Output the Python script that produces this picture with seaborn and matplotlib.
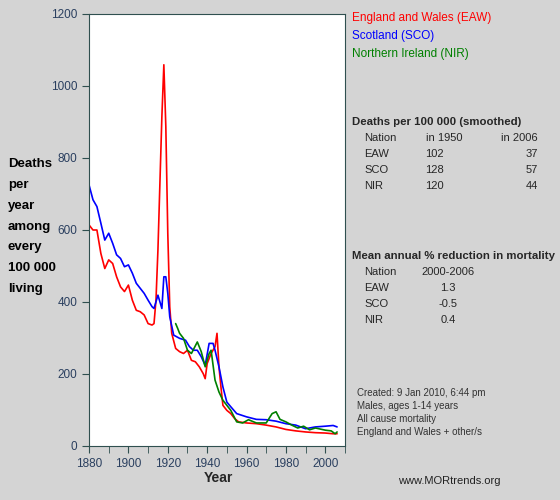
import numpy as np
import pandas as pd
import seaborn as sns
import matplotlib.pyplot as plt

eaw_years = [1880, 1882, 1884, 1886, 1888, 1890, 1892, 1894, 1896, 1898, 1900, 1902, 1904, 1906, 1908, 1910,
             1912, 1913, 1914, 1915, 1916, 1917, 1918, 1919, 1920, 1921, 1922, 1924, 1926, 1928, 1930, 1932,
             1934, 1936, 1938, 1939, 1940, 1942, 1944, 1945, 1946, 1947, 1948, 1950, 1952, 1954, 1956, 1960,
             1965, 1970, 1975, 1980, 1985, 1990, 1995, 2000, 2004, 2006]
eaw_vals = [614, 600, 600, 535, 493, 517, 507, 470, 442, 429, 447, 405, 377, 373, 364, 340,
            336, 340, 405, 545, 730, 915, 1059, 888, 591, 387, 313, 271, 262, 257, 266, 238,
            234, 220, 201, 187, 229, 257, 276, 313, 220, 164, 113, 99, 90, 76, 67, 64,
            62, 58, 53, 46, 42, 39, 37, 36, 34, 34]

sco_years = [1880, 1882, 1884, 1886, 1888, 1890, 1892, 1894, 1896, 1898, 1900, 1902, 1904, 1906, 1908, 1910,
             1912, 1913, 1915, 1917, 1918, 1919, 1920, 1921, 1923, 1926, 1929, 1931, 1933, 1935, 1937, 1939,
             1941, 1943, 1944, 1946, 1948, 1950, 1952, 1955, 1960, 1965, 1970, 1975, 1980, 1985, 1990, 1995,
             2000, 2004, 2006]
sco_vals = [725, 684, 665, 619, 572, 591, 563, 531, 521, 498, 503, 480, 452, 438, 424, 405,
            387, 382, 419, 382, 470, 470, 424, 359, 308, 299, 294, 276, 266, 266, 248, 224,
            285, 285, 266, 220, 164, 122, 109, 90, 81, 74, 73, 69, 62, 58, 48, 53,
            55, 57, 53]

nir_years = [1924, 1925, 1926, 1928, 1930, 1932, 1935, 1937, 1939, 1941, 1942, 1944, 1946, 1948, 1950, 1952,
             1955, 1958, 1961, 1965, 1970, 1973, 1975, 1977, 1980, 1983, 1986, 1989, 1992, 1995, 2000, 2003,
             2005, 2006]
nir_vals = [340, 327, 313, 299, 266, 257, 289, 262, 220, 257, 266, 183, 150, 127, 113, 99,
            67, 64, 73, 64, 64, 90, 95, 74, 67, 58, 50, 55, 45, 50, 44, 42,
            34, 39]

bg = "#d4d4d4"
spine = "#2f4f4f"
tickc = "#2a3f5f"

sns.set_style("white")
plt.rcParams['font.family'] = ['Liberation Sans', 'DejaVu Sans']

fig = plt.figure(figsize=(5.6, 5.0), dpi=100, facecolor=bg)
ax = fig.add_axes([0.159, 0.108, 0.457, 0.864])

for yrs, vals, col in [(eaw_years, eaw_vals, "#ff0000"), (sco_years, sco_vals, "#0000ff"), (nir_years, nir_vals, "#008000")]:
    sns.lineplot(x=yrs, y=vals, color=col, lw=1.2, ax=ax)

ax.set_xlim(1880, 2009.5)
ax.set_ylim(0, 1200)
ax.set_xticks(range(1880, 2001, 20))
ax.set_xticks(range(1890, 2011, 20), minor=True)
ax.set_yticks(range(0, 1201, 200))
for s in ax.spines.values():
    s.set_color(spine)
ax.tick_params(which="both", direction="out", length=5, color=spine, labelcolor=tickc, labelsize=8.5,
               bottom=True, left=True)
ax.set_xlabel("")
ax.set_ylabel("")

fig.text(0.39, 0.035, "Year", fontsize=10, fontweight="bold", ha="center")
fig.text(0.014, 0.41, "Deaths\n\nper\n\nyear\n\namong\n\nevery\n\n100 000\n\nliving",
         fontsize=9.5, fontweight="bold", va="bottom", linespacing=0.82, color="black")

fig.text(0.628, 0.958, "England and Wales (EAW)", color="#ff0000", fontsize=8.5)
fig.text(0.628, 0.922, "Scotland (SCO)", color="#0000ff", fontsize=8.5)
fig.text(0.628, 0.886, "Northern Ireland (NIR)", color="#008000", fontsize=8.5)

fig.text(0.628, 0.750, "Deaths per 100 000 (smoothed)", fontsize=8.2, fontweight="bold")
rows1 = [("Nation", "in 1950", "in 2006"), ("EAW", "102", "37"), ("SCO", "128", "57"), ("NIR", "120", "44")]
for i, (a, b, c) in enumerate(rows1):
    y = 0.718 - i * 0.032
    fig.text(0.650, y, a, fontsize=8)
    fig.text(0.793, y, b, fontsize=8, ha="center" if i == 0 else "right")
    fig.text(0.960, y, c, fontsize=8, ha="right")

fig.text(0.628, 0.482, "Mean annual % reduction in mortality", fontsize=8.2, fontweight="bold")
rows2 = [("Nation", "2000-2006"), ("EAW", "1.3"), ("SCO", "-0.5"), ("NIR", "0.4")]
for i, (a, b) in enumerate(rows2):
    y = 0.450 - i * 0.032
    fig.text(0.650, y, a, fontsize=8)
    fig.text(0.800, y, b, fontsize=8, ha="center")

notes = ["Created: 9 Jan 2010, 6:44 pm", "Males, ages 1-14 years", "All cause mortality",
         "England and Wales + other/s"]
for i, t in enumerate(notes):
    fig.text(0.637, 0.208 - i * 0.026, t, fontsize=7, color="#333333")
fig.text(0.71, 0.033, "www.MORtrends.org", fontsize=8, color="#222222")

fig.savefig("out.png", dpi=100, facecolor=bg)
